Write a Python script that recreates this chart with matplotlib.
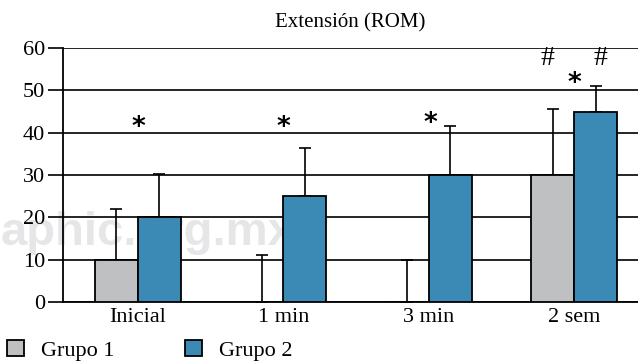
import numpy as np
import matplotlib.pyplot as plt

plt.rcParams['font.family'] = ['Liberation Serif', 'DejaVu Serif']

categorias = ['Inicial', '1 min', '3 min', '2 sem']
grupo1 = [10, 0, 0, 30]
grupo2 = [20, 25, 30, 45]
err1 = [12, 11, 10, 15.5]
err2 = [10.2, 11.3, 11.5, 6]
# marcas de significancia: (categoria, valor y, simbolo)
marcas = [(0, 41.0, '*'), (1, 41.0, '*'), (2.01, 42.0, '*'),
          (3.0, 51.5, '*'), (2.82, 57.6, '#'), (3.18, 57.6, '#')]

gris = '#bfc0c2'
azul = '#3a8ab5'

fig = plt.figure(figsize=(6.38, 3.64), dpi=100)
ax = fig.add_axes([0.0987, 0.1703, 0.9013, 0.6978], zorder=1)
ax.patch.set_alpha(0)

fig.text(1 / 638, 1 - 245 / 364, 'aphic.org.mx', family='Liberation Sans',
         weight='bold', fontsize=34, color='#e6e6e8', ha='left', va='baseline',
         zorder=0)

x = np.arange(len(categorias))
w = 0.296
b1 = ax.bar(x - w / 2, grupo1, w, color=gris, edgecolor='black', lw=1.3,
            label='Grupo 1', zorder=3)
b2 = ax.bar(x + w / 2, grupo2, w, color=azul, edgecolor='black', lw=1.3,
            label='Grupo 2', zorder=3)
ax.errorbar(x - w / 2, grupo1, yerr=[np.zeros(4), err1], fmt='none',
            ecolor='black', elinewidth=1.2, capsize=4, capthick=1.2, zorder=2)
ax.errorbar(x + w / 2, grupo2, yerr=[np.zeros(4), err2], fmt='none',
            ecolor='black', elinewidth=1.2, capsize=4, capthick=1.2, zorder=2)

for cx, cy, s in marcas:
    if s == '*':
        ax.text(cx, cy, s, ha='center', va='center', fontsize=19,
                family='DejaVu Sans', weight='bold')
    else:
        ax.text(cx, cy, s, ha='center', va='center', fontsize=20)

ax.set_xlim(-0.516, 3.44)
ax.set_ylim(0, 60)
ax.set_yticks(range(0, 61, 10))
ax.yaxis.grid(True, color='black', lw=1.2, zorder=1)
ax.set_axisbelow(True)
ax.tick_params(axis='y', length=11, width=1.2, labelsize=16, pad=2)
ax.tick_params(axis='x', length=0, labelsize=16, pad=4)
ax.set_xticks(x)
ax.set_xticklabels(categorias)
for s in ['top', 'right']:
    ax.spines[s].set_visible(False)
ax.spines['left'].set_linewidth(1.3)
ax.spines['bottom'].set_linewidth(1.3)

fig.text(350 / 638, 1 - 23 / 364, 'Extensión (ROM)', ha='center', va='center',
         fontsize=15)

fig.legend(handles=[b1, b2], loc='lower left', bbox_to_anchor=(-0.006, -0.022),
           ncol=2, frameon=False, fontsize=16, handlelength=0.75,
           handleheight=0.75, handletextpad=0.75, columnspacing=3.2,
           borderaxespad=0.1)

fig.savefig('out.png', dpi=100)
